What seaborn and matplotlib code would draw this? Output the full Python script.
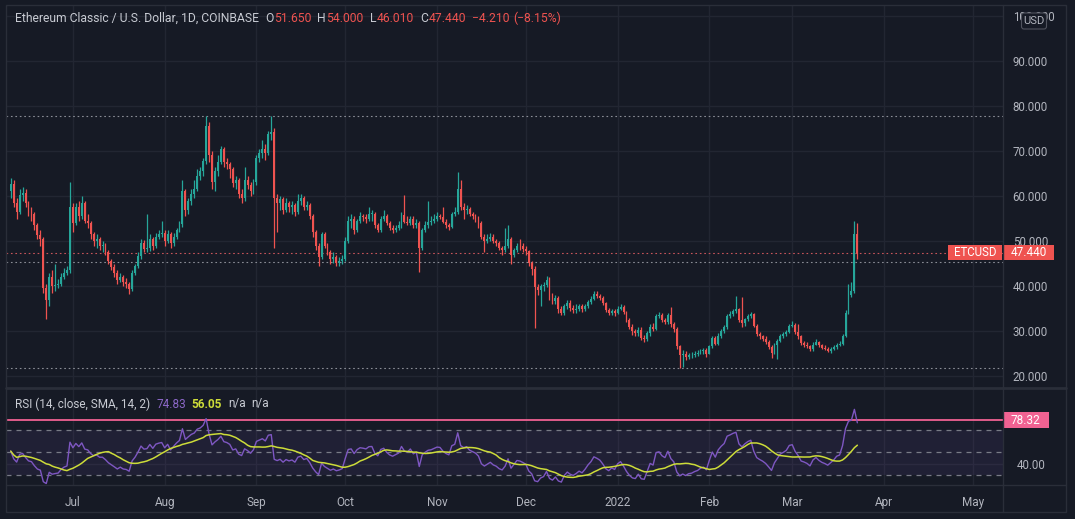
import numpy as np
import pandas as pd
import matplotlib
matplotlib.use("Agg")
import matplotlib.pyplot as plt
import matplotlib.dates as mdates
from matplotlib.patches import Rectangle, FancyBboxPatch
import seaborn as sns

# ---------------- data (daily ETC/USD candles) ----------------
start_date = "2021-06-10"
first_open = 61.0

close = [
    62.6, 58.5, 56.5, 60.2, 60.7, 58.5, 56.5, 56.0, 53.5, 51.3,
    50.5, 39.5, 37.0, 42.0, 40.0, 40.3, 40.5, 42.0, 43.0, 43.5,
    57.5, 54.0, 57.5, 55.5, 58.5, 54.5, 54.0, 51.5, 50.0, 50.5,
    49.0, 49.0, 47.5, 45.5, 44.2, 42.8, 41.3, 42.0, 40.8, 40.5,
    39.4, 43.0, 44.5, 46.7, 49.6, 48.3, 48.5, 50.5, 49.0, 51.0,
    51.5, 51.8, 50.0, 51.5, 49.5, 51.0, 52.5, 53.7, 61.0, 57.0,
    58.8, 60.5, 61.5, 64.5, 65.5, 67.8, 75.5, 69.0, 63.0, 65.5,
    67.5, 70.5, 67.5, 67.0, 66.0, 62.8, 63.5, 60.4, 59.5, 63.5,
    62.5, 61.0, 63.0, 68.5, 69.5, 70.5, 69.5, 73.7, 74.2, 59.6,
    58.5, 59.3, 57.0, 58.5, 57.5, 58.0, 56.5, 59.0, 59.5, 57.5,
    58.0, 55.6, 51.9, 48.9, 46.5, 51.5, 49.0, 47.5, 46.0, 46.5,
    45.2, 45.5, 46.0, 50.0, 54.5, 54.8, 52.5, 54.5, 55.5, 55.3,
    55.0, 56.0, 56.1, 53.5, 52.5, 55.0, 55.5, 54.0, 53.0, 52.5,
    53.0, 53.5, 55.8, 54.3, 54.0, 55.0, 53.5, 54.0, 48.4, 52.5,
    53.5, 54.3, 54.5, 55.0, 55.5, 55.4, 54.3, 53.6, 53.2, 56.0,
    56.5, 61.5, 57.5, 56.8, 57.2, 56.0, 55.5, 55.0, 54.0, 51.0,
    50.0, 50.5, 51.0, 50.0, 49.5, 48.5, 48.0, 48.8, 50.5, 47.0,
    48.0, 49.0, 48.8, 48.3, 47.7, 45.1, 43.8, 39.8, 39.2, 40.0,
    40.3, 41.4, 37.7, 36.6, 37.3, 34.8, 34.0, 35.5, 36.3, 35.2,
    34.6, 35.0, 35.5, 34.8, 35.5, 36.4, 37.1, 38.2, 37.8, 37.3,
    36.2, 34.7, 34.0, 34.5, 34.0, 35.0, 35.4, 34.2, 32.5, 31.0,
    29.9, 29.6, 30.3, 28.4, 28.2, 29.5, 31.0, 30.5, 33.3, 33.5,
    32.5, 32.0, 33.5, 31.5, 30.5, 26.6, 24.6, 25.0, 24.2, 24.6,
    24.7, 25.0, 25.2, 25.6, 25.8, 25.0, 26.7, 28.5, 27.2, 29.0,
    30.0, 30.8, 33.3, 33.8, 34.4, 34.8, 32.4, 31.7, 32.6, 33.3,
    33.7, 31.2, 29.4, 28.8, 28.3, 27.6, 26.5, 25.2, 26.8, 27.8,
    28.9, 29.3, 29.8, 31.1, 31.3, 29.8, 28.8, 27.3, 27.0, 26.6,
    25.9, 27.0, 27.5, 26.8, 26.3, 26.0, 25.6, 26.0, 26.4, 27.0,
    27.2, 28.9, 34.1, 38.1, 38.9, 51.65, 47.44,
]

high = [
    64.0, 63.5, 59.5, 61.5, 62.0, 61.5, 59.0, 57.5, 56.5, 54.0,
    52.5, 51.0, 40.5, 43.0, 43.5, 44.8, 41.5, 42.8, 44.0, 44.5,
    63.0, 58.5, 58.5, 59.0, 60.0, 59.0, 56.0, 54.5, 52.0, 51.5,
    51.0, 50.0, 49.5, 48.0, 46.0, 44.8, 43.5, 43.0, 42.5, 41.8,
    41.0, 43.5, 45.0, 47.5, 50.5, 50.2, 56.0, 51.5, 51.0, 51.8,
    52.5, 54.5, 52.5, 52.5, 52.0, 51.8, 53.0, 54.5, 63.5, 61.5,
    59.5, 61.5, 63.5, 66.0, 66.5, 68.5, 77.8, 76.5, 70.0, 66.5,
    69.0, 71.0, 70.8, 68.5, 67.5, 66.5, 64.5, 64.0, 61.5, 66.5,
    64.5, 63.0, 63.8, 69.0, 70.5, 72.5, 71.5, 74.5, 77.8, 75.0,
    60.5, 60.0, 59.8, 59.5, 59.0, 59.0, 58.5, 60.5, 60.5, 60.0,
    58.8, 58.5, 56.0, 52.5, 49.5, 52.0, 52.0, 49.5, 48.0, 47.5,
    47.0, 46.5, 47.0, 50.8, 55.5, 56.0, 55.5, 55.0, 56.5, 56.0,
    56.0, 57.5, 57.0, 56.5, 54.0, 55.5, 57.0, 56.0, 54.5, 53.5,
    53.5, 54.5, 56.5, 60.2, 55.5, 55.5, 55.5, 55.0, 54.5, 53.0,
    54.5, 59.0, 55.5, 56.0, 56.5, 56.0, 57.5, 55.0, 54.0, 56.5,
    57.5, 65.4, 63.5, 58.5, 58.0, 57.5, 56.5, 56.0, 55.5, 54.5,
    51.5, 51.5, 51.8, 51.5, 50.5, 50.0, 49.0, 53.0, 53.5, 51.0,
    48.5, 49.5, 50.5, 49.5, 48.8, 48.0, 45.5, 44.5, 40.5, 40.5,
    41.0, 42.2, 42.0, 38.5, 38.0, 37.8, 35.5, 36.0, 37.0, 36.8,
    35.8, 36.0, 36.0, 36.0, 36.0, 37.0, 37.8, 38.9, 38.8, 38.3,
    37.8, 36.5, 35.2, 35.0, 35.0, 35.5, 36.0, 35.8, 34.5, 33.0,
    31.5, 30.5, 31.0, 30.8, 29.2, 30.0, 31.5, 31.8, 33.8, 34.3,
    34.0, 33.0, 34.0, 35.4, 32.0, 31.0, 27.0, 25.8, 25.5, 25.2,
    25.3, 25.5, 25.8, 26.0, 26.3, 26.2, 27.0, 29.0, 29.0, 29.5,
    30.5, 31.3, 33.8, 34.5, 35.0, 37.8, 35.2, 37.5, 33.0, 33.8,
    34.2, 34.0, 31.5, 29.8, 29.2, 28.8, 28.0, 26.8, 27.3, 28.2,
    29.3, 29.8, 30.3, 31.5, 32.2, 31.8, 31.5, 29.2, 27.8, 27.5,
    27.0, 27.5, 28.3, 27.8, 27.2, 26.8, 26.4, 26.4, 26.8, 27.4,
    27.8, 29.4, 34.6, 40.4, 41.0, 54.4, 54.0,
]

low = [
    59.5, 57.5, 55.0, 56.0, 59.0, 57.5, 55.5, 54.5, 52.5, 50.5,
    49.0, 38.5, 32.6, 35.5, 38.5, 39.0, 39.5, 40.0, 41.5, 42.5,
    43.0, 52.0, 53.5, 54.5, 55.0, 54.0, 53.0, 50.5, 49.0, 48.5,
    48.0, 47.5, 46.8, 45.0, 43.5, 42.0, 40.5, 40.8, 40.0, 39.5,
    38.2, 39.0, 42.5, 44.0, 46.0, 47.5, 47.5, 47.8, 48.0, 48.5,
    50.5, 51.0, 49.0, 49.5, 48.5, 48.8, 50.5, 52.0, 53.2, 55.5,
    56.0, 58.0, 59.5, 61.0, 63.5, 64.5, 67.0, 67.5, 61.5, 61.0,
    64.5, 67.0, 66.5, 66.0, 64.0, 62.0, 61.5, 59.5, 58.5, 59.0,
    61.5, 60.0, 60.5, 62.5, 67.5, 68.5, 68.0, 69.0, 72.5, 48.5,
    52.0, 57.0, 56.0, 56.5, 56.5, 56.0, 55.5, 56.0, 58.0, 57.0,
    56.8, 55.0, 51.0, 48.0, 44.5, 46.0, 48.5, 46.8, 45.0, 45.2,
    44.5, 44.5, 44.8, 45.5, 49.5, 53.0, 51.5, 52.0, 54.0, 54.5,
    54.0, 54.5, 54.5, 53.0, 52.0, 52.0, 54.5, 53.5, 52.5, 51.8,
    52.0, 52.5, 53.0, 54.0, 53.5, 53.5, 53.0, 53.0, 43.2, 48.0,
    52.0, 53.0, 53.5, 54.0, 54.5, 54.8, 54.0, 53.0, 52.5, 53.0,
    55.5, 56.0, 57.0, 55.0, 56.0, 55.5, 54.8, 54.2, 53.0, 50.5,
    47.5, 49.5, 50.0, 49.5, 48.8, 48.0, 47.0, 47.5, 48.5, 45.0,
    46.5, 47.5, 48.0, 47.5, 47.0, 44.5, 42.5, 30.7, 38.0, 35.5,
    39.0, 39.8, 37.0, 36.0, 36.0, 34.0, 33.5, 33.5, 35.0, 34.5,
    34.0, 34.0, 34.5, 34.2, 34.5, 35.2, 36.0, 36.8, 37.3, 36.8,
    35.8, 34.2, 33.5, 33.5, 33.4, 33.8, 34.6, 33.8, 32.0, 30.5,
    29.2, 29.0, 29.0, 28.0, 27.5, 27.8, 29.0, 30.0, 30.2, 32.8,
    32.0, 31.5, 31.5, 31.0, 29.8, 26.0, 21.8, 22.0, 23.5, 23.8,
    24.0, 24.2, 24.5, 24.8, 25.0, 24.2, 24.8, 26.3, 26.8, 27.0,
    28.5, 29.5, 30.5, 32.8, 33.3, 34.0, 32.0, 31.0, 31.2, 32.2,
    32.8, 30.8, 29.0, 28.3, 27.8, 27.2, 26.0, 24.0, 24.8, 23.7,
    27.5, 28.5, 28.8, 29.5, 30.8, 29.3, 28.3, 27.0, 26.5, 26.2,
    25.5, 25.6, 26.8, 26.4, 26.0, 25.7, 25.3, 25.2, 25.7, 26.1,
    26.7, 26.9, 28.6, 33.8, 37.5, 38.5, 46.01,
]

month_ticks = ["2021-07-01", "2021-08-01", "2021-09-01", "2021-10-01", "2021-11-01",
               "2021-12-01", "2022-01-01", "2022-02-01", "2022-03-01", "2022-04-01",
               "2022-05-01"]
month_labels = ["Jul", "Aug", "Sep", "Oct", "Nov", "Dec", "2022", "Feb", "Mar", "Apr", "May"]
price_ticks = [20, 30, 40, 50, 60, 70, 80, 90, 100]
rsi_len = 14
rsi_sma_len = 14
rsi_seed_gain, rsi_seed_loss = 1.0, 1.08
rsi_levels = [30, 50, 70]
rsi_marker = 78.32
rsi_header_values = ["74.83", "56.05"]
ref_price_line = 45.3

# ---------------- frame ----------------
n = min(len(close), len(high), len(low))
df = pd.DataFrame({
    "date": pd.date_range(start_date, periods=n, freq="D"),
    "close": close[:n], "high": high[:n], "low": low[:n],
})
df["open"] = df["close"].shift(1).fillna(first_open)
df["x"] = mdates.date2num(df["date"])

# Wilder RSI + SMA
g, l = rsi_seed_gain, rsi_seed_loss
rsi = []
for o, c in zip(df["open"], df["close"]):
    d = c - o
    g = (g * (rsi_len - 1) + max(d, 0)) / rsi_len
    l = (l * (rsi_len - 1) + max(-d, 0)) / rsi_len
    rsi.append(100 - 100 / (1 + g / l))
df["rsi"] = rsi
df["rsi_sma"] = df["rsi"].rolling(rsi_sma_len, min_periods=1).mean()

# ---------------- style ----------------
sns.set_theme(style="dark")
plt.rcParams["font.family"] = ["Roboto", "DejaVu Sans"]
BG = "#161a25"
GRID = "#222632"
FRAME = "#2a2e39"
TXT = "#b2b5be"
HDR = "#c8cbd3"
UP = "#26a69a"
DN = "#ef5350"
RSI_C = "#7e57c2"
SMA_C = "#cddc39"
PINK = "#f06292"

W, H = 1075, 519
fig = plt.figure(figsize=(W / 100, H / 100), dpi=100, facecolor=BG)


def frac(x0, y0, x1, y1):
    return [x0 / W, 1 - y1 / H, (x1 - x0) / W, (y1 - y0) / H]


ax1 = fig.add_axes(frac(6, 5, 1003, 387))
ax2 = fig.add_axes(frac(6, 388, 1003, 485))
x_origin = mdates.date2num(pd.Timestamp("2021-07-01"))
xlim = (x_origin - 22.6, x_origin + 314.2)
mt = mdates.date2num(pd.to_datetime(month_ticks))

for ax in (ax1, ax2):
    ax.set_facecolor(BG)
    for s in ax.spines.values():
        s.set_visible(False)
    ax.set_xlim(*xlim)
    ax.set_xticks(mt)
    ax.grid(True, axis="x", color=GRID, lw=1.0)
    ax.set_xlabel("")
    ax.set_ylabel("")

# price pane
ax1.set_ylim(17.56, 102.44)
ax1.set_yticks(price_ticks)
ax1.set_yticklabels([f"{v:.3f}" for v in price_ticks])
ax1.yaxis.tick_right()
ax1.grid(True, axis="y", color=GRID, lw=1.0)
ax1.tick_params(axis="y", length=0, pad=7, labelcolor=TXT, labelsize=8.3)
ax1.tick_params(axis="x", length=0, labelbottom=False)

up = df["close"] >= df["open"]
cols = np.where(up, UP, DN)
ax1.vlines(df["x"], df["low"], df["high"], colors=cols, lw=0.9, zorder=3)
body = (df["close"] - df["open"]).abs().clip(lower=0.15)
ax1.bar(df["x"], body, bottom=np.minimum(df["open"], df["close"]), width=0.64,
        color=cols, linewidth=0, zorder=4)

last_close = df["close"].iloc[-1]
ax1.axhline(df["high"].max(), color="#8a8d96", lw=0.8, ls=(0, (1.5, 2.5)), zorder=2)
ax1.axhline(df["low"].min(), color="#8a8d96", lw=0.8, ls=(0, (1.5, 2.5)), zorder=2)
ax1.axhline(last_close, color="#c8545a", lw=0.8, ls=(0, (1.5, 2.5)), zorder=2)
ax1.axhline(ref_price_line, color="#8a8d96", lw=0.8, ls=(0, (1.5, 2.5)), zorder=2)

# RSI pane
ax2.set_ylim(21.0, 106.8)
ax2.axhspan(rsi_levels[0], rsi_levels[-1], color=RSI_C, alpha=0.10, lw=0, zorder=1)
for lv in rsi_levels:
    ax2.axhline(lv, color="#787b86", lw=0.9, ls=(0, (4, 4)), zorder=2)
ax2.axhline(rsi_marker, color=PINK, lw=1.3, zorder=3)
sns.lineplot(x=df["x"], y=df["rsi"], ax=ax2, color=RSI_C, lw=1.0, zorder=5, legend=False)
sns.lineplot(x=df["x"], y=df["rsi_sma"], ax=ax2, color=SMA_C, lw=1.1, zorder=6, legend=False)
ax2.set_xlabel("")
ax2.set_ylabel("")
ax2.set_xlim(*xlim)
ax2.set_yticks([40])
ax2.set_yticklabels(["40.00"])
ax2.yaxis.tick_right()
ax2.grid(True, axis="y", color=GRID, lw=1.0)
ax2.set_xticks(mt)
ax2.set_xticklabels(month_labels)
ax2.tick_params(axis="y", length=0, pad=10, labelcolor=TXT, labelsize=8.3)
ax2.tick_params(axis="x", length=0, pad=8, labelcolor=TXT, labelsize=8.5)

# ---------------- overlay (frame, labels, legends) ----------------
ov = fig.add_axes([0, 0, 1, 1], zorder=20)
ov.set_xlim(0, W)
ov.set_ylim(H, 0)
ov.axis("off")
ov.patch.set_alpha(0)

ov.add_patch(Rectangle((6, 5), 1060, 507, fill=False, edgecolor=FRAME, lw=1.0))
ov.plot([1003, 1003], [5, 512], color=FRAME, lw=1.0)
ov.plot([6, 1066], [387.5, 387.5], color=FRAME, lw=2.0)
ov.plot([6, 1066], [485, 485], color=FRAME, lw=1.0)


def to_px(ax, yv):
    return H - ax.transData.transform((xlim[0], yv))[1]


yl = to_px(ax1, last_close)
ov.add_patch(Rectangle((948, yl - 7.5), 54, 15, color=DN, lw=0))
ov.text(975, yl, "ETCUSD", color="white", fontsize=8.3, ha="center", va="center")
ov.add_patch(Rectangle((1003, yl - 7.5), 51, 15, color=DN, lw=0))
ov.text(1028.5, yl, f"{last_close:.3f}", color="white", fontsize=8.5, ha="center", va="center")

yr = to_px(ax2, rsi_marker)
ov.add_patch(Rectangle((1003, yr - 8), 45.5, 16, color=PINK, lw=0))
ov.text(1025.7, yr, f"{rsi_marker:.2f}", color="white", fontsize=8.5, ha="center", va="center")

ov.add_patch(FancyBboxPatch((1022, 13.5), 24, 15, boxstyle="round,pad=0.5,rounding_size=2.5",
                            facecolor=BG, edgecolor="#50535e", lw=0.8))
ov.text(1034, 21.5, "USD", color=TXT, fontsize=8, ha="center", va="center")

renderer = fig.canvas.get_renderer()


def seq(pieces, x0, y, size):
    x = x0
    for txt, col, gap, wt in pieces:
        t = ov.text(x, y, txt, color=col, fontsize=size, ha="left", va="center", fontweight=wt)
        x += t.get_window_extent(renderer).width + gap


o_l, h_l, l_l, c_l = df["open"].iloc[-1], df["high"].iloc[-1], df["low"].iloc[-1], last_close
chg = c_l - o_l
pct = chg / o_l * 100
fmt = lambda v: f"{v:.3f}".replace("-", "\u2212")
seq([
    ("Ethereum Classic / U.S. Dollar, 1D, COINBASE", HDR, 6, "normal"),
    ("O", HDR, 0.5, "normal"), (fmt(o_l), DN, 6, "normal"),
    ("H", HDR, 0.5, "normal"), (fmt(h_l), DN, 6, "normal"),
    ("L", HDR, 0.5, "normal"), (fmt(l_l), DN, 6, "normal"),
    ("C", HDR, 0.5, "normal"), (fmt(c_l), DN, 6, "normal"),
    (fmt(chg), DN, 4, "normal"),
    (f"({pct:.2f}%)".replace("-", "\u2212"), DN, 0, "normal"),
], 15, 18, 8.7)

seq([
    ("RSI (14, close, SMA, 14, 2)", HDR, 6, "normal"),
    (rsi_header_values[0], "#8c68c8", 6, "normal"),
    (rsi_header_values[1], SMA_C, 6, "bold"),
    ("n/a", HDR, 5, "normal"),
    ("n/a", HDR, 0, "normal"),
], 15, 404, 8.5)

fig.savefig("out.png", dpi=100, facecolor=BG)
